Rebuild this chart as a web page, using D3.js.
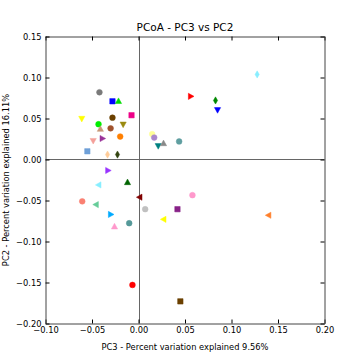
<!DOCTYPE html>
<html>
<head>
<meta charset="utf-8">
<script src="https://d3js.org/d3.v7.min.js"></script>
<style>
  body { margin: 0; background: #fff; }
  text { font-family: "DejaVu Sans", sans-serif; }
</style>
</head>
<body>
<script>
  // PCoA coordinates, one entry per sample
  var pc3 = [-0.042, -0.028, -0.0215, -0.0075, -0.061, -0.028, -0.043, -0.0165, -0.041, -0.030,
             -0.0197, -0.039, -0.0487, -0.055, -0.0333, -0.0226, -0.033, -0.0118, -0.0427, -0.0605,
             -0.0455, -0.030, -0.010, -0.0258, 0.0014, 0.056, 0.0828, 0.085, 0.0147, 0.0169,
             0.0212, 0.0269, 0.0437, 0.058, 0.0072, 0.0419, 0.0272, 0.140, 0.1276, -0.0065, 0.045];
  var pc2 = [0.082, 0.071, 0.071, 0.054, 0.050, 0.051, 0.043, 0.043, 0.037, 0.038,
             0.028, 0.0256, 0.023, 0.010, 0.006, 0.006, -0.0134, -0.028, -0.031, -0.051,
             -0.055, -0.067, -0.0777, -0.082, -0.046, 0.077, 0.072, 0.0606, 0.031, 0.0268,
             0.0167, 0.0195, 0.022, -0.0435, -0.0606, -0.0606, -0.073, -0.068, 0.1037, -0.153, -0.173];

  // marker styles, same order as above
  var markerColors = ["#7a7a7a", "#0000ff", "#00dd00", "#ee0088", "#ffff00", "#6b4000", "#00ee00", "#9a8a10", "#c89878", "#a0522d",
                      "#ff7f00", "#993399", "#f4a09a", "#6fa0d8", "#ffcc99", "#334411", "#9933ff", "#006400", "#88eeff", "#fa8072",
                      "#66cc99", "#00aaff", "#559999", "#ff99cc", "#800000", "#ff0000", "#008800", "#0000ff", "#ffff99", "#aa88cc",
                      "#008080", "#888888", "#5f9ea0", "#ff99cc", "#c0c0c0", "#882288", "#ffff00", "#ff7f2a", "#88eeff", "#ff0000", "#6b4000"];
  var markerShapes = ["o", "s", "^", "s", "v", "o", "o", "v", "^", "o",
                      "o", ">", "v", "s", "d", "d", ">", "^", "<", "o",
                      "<", ">", "o", "^", "<", ">", "d", "v", "o", "o",
                      "v", "^", "o", "o", "o", "s", "<", "<", "d", "o", "s"];

  var xTicks = [-0.10, -0.05, 0.00, 0.05, 0.10, 0.15, 0.20];
  var yTicks = [-0.20, -0.15, -0.10, -0.05, 0.00, 0.05, 0.10, 0.15];

  var titleText = "PCoA - PC3 vs PC2";
  var xLabel = "PC3 - Percent variation explained 9.56%";
  var yLabel = "PC2 - Percent variation explained 16.11%";

  var width = 360, height = 360;
  var plotL = 45.5, plotR = 324.5, plotT = 36.5, plotB = 323.5;

  var svg = d3.select("body").append("svg")
      .attr("width", width)
      .attr("height", height);

  var x = d3.scaleLinear().domain([-0.10, 0.20]).range([plotL, plotR]);
  var y = d3.scaleLinear().domain([-0.20, 0.15]).range([plotB, plotT]);
  var fmt = d3.format(".2f");

  // zero lines
  svg.append("line")
      .attr("x1", Math.round(x(0)) + 0.5).attr("x2", Math.round(x(0)) + 0.5)
      .attr("y1", plotT).attr("y2", plotB)
      .attr("stroke", "#666").attr("stroke-width", 1);
  svg.append("line")
      .attr("x1", plotL).attr("x2", plotR)
      .attr("y1", Math.round(y(0)) + 0.5).attr("y2", Math.round(y(0)) + 0.5)
      .attr("stroke", "#666").attr("stroke-width", 1);

  // axes, ticks point inward on all four sides
  function styleAxis(g) {
    g.select(".domain").attr("stroke", "#444");
    g.selectAll(".tick line").attr("stroke", "#000");
    g.selectAll(".tick text").attr("fill", "#000")
        .style("font-family", "'DejaVu Sans', sans-serif").style("font-size", "8.3px");
  }

  svg.append("g").attr("transform", "translate(0," + plotB + ")")
      .call(d3.axisBottom(x).tickValues(xTicks).tickFormat(fmt).tickSizeInner(-4).tickSizeOuter(0).tickPadding(4))
      .call(styleAxis);
  svg.append("g").attr("transform", "translate(0," + plotT + ")")
      .call(d3.axisTop(x).tickValues(xTicks).tickFormat("").tickSizeInner(-4).tickSizeOuter(0))
      .call(styleAxis);
  svg.append("g").attr("transform", "translate(" + plotL + ",0)")
      .call(d3.axisLeft(y).tickValues(yTicks).tickFormat(fmt).tickSizeInner(-4).tickSizeOuter(0).tickPadding(4))
      .call(styleAxis);
  svg.append("g").attr("transform", "translate(" + plotR + ",0)")
      .call(d3.axisRight(y).tickValues(yTicks).tickFormat("").tickSizeInner(-4).tickSizeOuter(0))
      .call(styleAxis);

  // marker outlines, matplotlib style
  var shapePath = {
    "s": "M-2.7,-2.7h5.4v5.4h-5.4Z",
    "^": "M0,-3.4L3.1,2.2L-3.1,2.2Z",
    "v": "M0,3.4L3.1,-2.2L-3.1,-2.2Z",
    "<": "M-3.4,0L2.2,-3.1L2.2,3.1Z",
    ">": "M3.4,0L-2.2,-3.1L-2.2,3.1Z",
    "d": "M0,-3.6L2.1,0L0,3.6L-2.1,0Z",
    "o": d3.symbol(d3.symbolCircle, 26)()
  };

  var idx = d3.range(pc3.length);
  svg.append("g").selectAll("path")
      .data(idx)
      .join("path")
      .attr("transform", function(i) { return "translate(" + x(pc3[i]) + "," + y(pc2[i]) + ")"; })
      .attr("d", function(i) { return shapePath[markerShapes[i]]; })
      .attr("fill", function(i) { return markerColors[i]; })
      .attr("stroke", function(i) { return markerColors[i]; })
      .attr("stroke-width", 0.5);

  // texts
  svg.append("text")
      .attr("x", (plotL + plotR) / 2).attr("y", 31)
      .attr("text-anchor", "middle")
      .style("font-size", "10.5px")
      .text(titleText);
  svg.append("text")
      .attr("x", (plotL + plotR) / 2).attr("y", 350)
      .attr("text-anchor", "middle")
      .style("font-size", "8.3px")
      .text(xLabel);
  svg.append("text")
      .attr("transform", "translate(9," + (plotT + plotB) / 2 + ") rotate(-90)")
      .attr("text-anchor", "middle")
      .style("font-size", "8.3px")
      .text(yLabel);
</script>
</body>
</html>
